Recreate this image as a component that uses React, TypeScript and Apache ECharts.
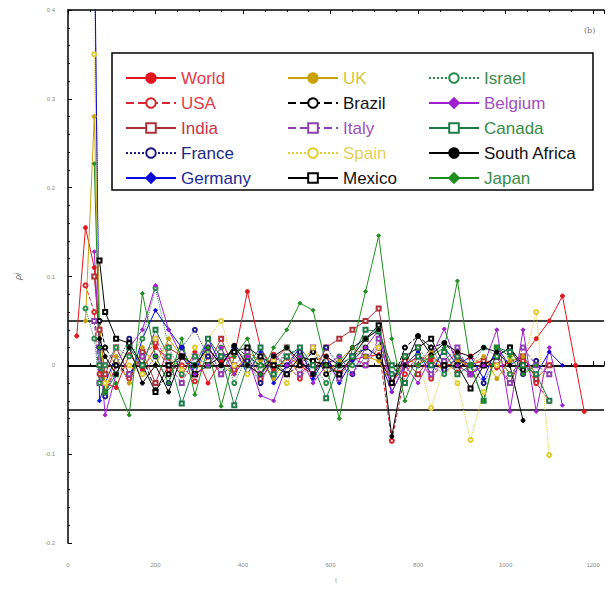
import React, { useEffect, useRef } from "react";
import * as echarts from "echarts";

const N = null;
const days = [20, 40, 60, 72, 85, 110, 140, 170, 200, 230, 260, 290, 320, 350, 380, 410, 440, 470, 500, 530, 560, 590, 620, 650, 680, 710, 740, 770, 800, 830, 860, 890, 920, 950, 980, 1010, 1040, 1070, 1100, 1130, 1160, 1180];

const world = [0.033, 0.155, 0.11, 0.02, -0.02, -0.025, 0.012, -0.005, 0.02, 0.008,
  -0.012, 0.015, -0.02, 0.005, 0.01, 0.083, 0.02, -0.005, 0.008, -0.01,
  0.004, 0.0, -0.008, 0.006, 0.01, 0.012, -0.02, 0.0, 0.01, 0.005,
  -0.005, 0.008, 0.0, 0.006, -0.003, 0.004, 0.01, 0.03, 0.05, 0.078,
  0.0, -0.052];
const usa = [N, 0.09, 0.06, -0.01, -0.03, 0.0, -0.015, 0.01, 0.025, -0.005,
  0.0, -0.018, 0.01, -0.01, 0.015, 0.0, -0.01, 0.012, 0.0, -0.015,
  0.005, 0.01, -0.012, 0.008, 0.0, 0.02, -0.085, -0.01, 0.012, -0.015,
  0.005, -0.008, 0.01, 0.0, 0.012, -0.01, 0.005, -0.02, -0.04, N, N, N];
const india = [N, N, 0.1, 0.04, -0.01, 0.02, -0.01, 0.015, -0.02, 0.02,
  0.01, -0.01, 0.0, 0.03, -0.005, 0.01, -0.015, 0.005, 0.02, 0.0,
  -0.01, 0.02, 0.03, 0.04, 0.05, 0.064, -0.02, 0.005, -0.01, 0.01,
  0.0, 0.015, -0.01, 0.005, 0.0, -0.02, 0.01, -0.015, 0.0, N, N, N];
const france = [N, N, 0.47, 0.02, -0.035, 0.0, 0.03, -0.01, 0.01, -0.02,
  0.02, 0.04, 0.01, -0.01, 0.02, 0.005, -0.02, 0.01, 0.0, 0.015,
  -0.01, 0.02, 0.0, -0.01, 0.01, 0.02, -0.01, 0.01, 0.0, 0.02,
  -0.005, 0.01, 0.0, -0.02, 0.01, 0.02, -0.01, 0.005, N, N, N, N];
const germany = [N, N, 0.52, -0.04, -0.02, 0.01, -0.02, 0.03, 0.062, 0.04,
  0.02, -0.01, 0.03, 0.0, 0.02, -0.01, 0.015, -0.02, 0.0, 0.02,
  -0.015, 0.01, -0.02, 0.005, 0.02, 0.01, -0.03, 0.0, 0.015, -0.01,
  0.02, 0.0, 0.01, -0.015, 0.02, 0.0, 0.01, -0.01, 0.015, 0.0, N, N];
const uk = [N, 0.05, 0.28, 0.05, -0.03, 0.01, -0.02, 0.02, 0.0, 0.03,
  0.01, -0.01, 0.02, 0.0, -0.01, 0.015, 0.005, -0.015, 0.01, 0.0,
  0.02, -0.01, 0.005, 0.02, 0.01, 0.005, -0.02, 0.01, 0.0, 0.015,
  -0.01, 0.005, 0.0, 0.01, -0.015, 0.005, 0.01, -0.01, N, N, N, N];
const brazil = [N, N, N, 0.05, 0.02, 0.0, -0.01, 0.01, -0.028, -0.01,
  0.01, 0.0, 0.02, 0.0, 0.022, 0.01, 0.0, 0.005, -0.01, 0.0,
  0.015, -0.01, 0.0, 0.01, 0.02, 0.01, -0.02, 0.02, 0.033, 0.02,
  0.025, 0.01, -0.01, 0.0, 0.01, 0.02, -0.005, N, N, N, N, N];
const italy = [N, N, 0.05, -0.02, 0.0, 0.02, -0.01, 0.01, 0.03, 0.0,
  -0.02, 0.01, 0.02, -0.01, 0.0, 0.015, -0.01, 0.005, 0.01, -0.01,
  0.02, 0.0, -0.015, 0.01, 0.0, 0.03, -0.02, 0.0, 0.01, -0.01,
  0.005, 0.02, -0.01, 0.0, 0.01, -0.02, 0.02, 0.0, -0.01, N, N, N];
const spain = [N, N, 0.35, 0.0, -0.02, 0.02, 0.0, -0.01, 0.03, 0.01,
  -0.005, 0.02, 0.03, 0.05, 0.0, -0.01, 0.01, 0.005, -0.02, 0.01,
  0.02, 0.0, -0.01, 0.01, 0.03, 0.02, 0.0, -0.02, 0.01, -0.048,
  0.0, -0.02, -0.084, -0.03, 0.0, 0.01, 0.0, 0.06, -0.101, N, N, N];
const mexico = [N, N, N, 0.118, 0.06, 0.03, 0.025, 0.0, -0.03, 0.0,
  0.01, -0.01, 0.0, 0.01, 0.015, 0.02, 0.01, 0.0, -0.01, 0.01,
  0.005, 0.0, -0.01, 0.01, 0.03, 0.045, -0.02, 0.01, 0.02, 0.03,
  0.0, 0.0, -0.026, 0.0, 0.01, 0.02, 0.0, N, N, N, N, N];
const israel = [N, 0.064, 0.03, -0.02, 0.0, 0.02, 0.01, 0.03, 0.087, 0.02,
  -0.01, 0.01, 0.0, 0.02, -0.02, 0.01, 0.0, -0.01, 0.02, 0.01,
  0.0, -0.02, 0.01, 0.0, 0.03, 0.04, -0.01, 0.01, 0.02, 0.0,
  -0.01, 0.01, 0.0, 0.02, 0.01, -0.01, 0.0, N, N, N, N, N];
const belgium = [N, N, 0.128, 0.02, -0.056, -0.01, 0.02, 0.04, 0.09, 0.04,
  0.01, -0.01, 0.0, 0.02, -0.01, 0.01, -0.034, -0.04, 0.0, 0.01,
  -0.02, 0.0, 0.01, -0.01, 0.02, 0.04, -0.03, 0.0, -0.02, 0.01,
  0.041, 0.0, -0.01, 0.0, 0.04, -0.052, 0.04, -0.052, 0.02, -0.045, N, N];
const canada = [N, N, N, 0.0, -0.03, -0.01, 0.02, 0.0, 0.04, 0.01,
  -0.043, 0.0, 0.03, 0.01, -0.045, 0.0, 0.02, -0.01, 0.01, 0.02,
  0.0, -0.037, 0.0, 0.01, 0.04, 0.038, 0.0, -0.02, 0.01, 0.0,
  0.015, -0.01, 0.0, -0.04, 0.02, 0.015, 0.0, -0.01, -0.04, N, N, N];
const southAfrica = [N, N, N, 0.03, 0.01, -0.01, 0.02, -0.02, 0.0, -0.03,
  0.01, 0.0, 0.02, 0.0, 0.022, 0.0, -0.01, 0.01, 0.02, 0.005,
  -0.01, 0.01, 0.0, 0.02, 0.03, 0.04, -0.08, 0.0, 0.033, 0.012,
  0.025, 0.015, 0.01, 0.02, 0.015, 0.0, -0.062, N, N, N, N, N];
const japan = [N, N, 0.227, 0.02, -0.03, -0.02, -0.056, 0.081, 0.01, -0.02,
  0.03, -0.033, 0.02, -0.046, 0.01, 0.03, -0.01, 0.02, 0.04, 0.07,
  0.062, 0.0, -0.06, 0.02, 0.083, 0.146, 0.03, -0.04, 0.0, 0.01,
  0.02, 0.095, 0.0, -0.04, 0.02, 0.01, -0.01, 0.0, N, N, N, N];

const refLines = [0.05, 0, -0.05];
const xTicks = [0, 200, 400, 600, 800, 1000, 1200];

type Def = { name: string; values: (number | null)[]; color: string; text: string; symbol: string; line: string };
const defs: Def[] = [
  { name: "World", values: world, color: "#e3161e", text: "#e23a4a", symbol: "circle", line: "solid" },
  { name: "USA", values: usa, color: "#d8262e", text: "#e23a4a", symbol: "emptyCircle", line: "dashed" },
  { name: "India", values: india, color: "#b0303a", text: "#c8344a", symbol: "emptyRect", line: "solid" },
  { name: "France", values: france, color: "#1c1c80", text: "#1c2a80", symbol: "emptyCircle", line: "dotted" },
  { name: "Germany", values: germany, color: "#0a0ad8", text: "#1c2a9a", symbol: "diamond", line: "solid" },
  { name: "UK", values: uk, color: "#c9a20a", text: "#d8c43a", symbol: "circle", line: "solid" },
  { name: "Brazil", values: brazil, color: "#000000", text: "#111111", symbol: "emptyCircle", line: "dashed" },
  { name: "Italy", values: italy, color: "#9040b0", text: "#a050c0", symbol: "emptyRect", line: "dashed" },
  { name: "Spain", values: spain, color: "#e2cc30", text: "#e2d05a", symbol: "emptyCircle", line: "dotted" },
  { name: "Mexico", values: mexico, color: "#000000", text: "#111111", symbol: "emptyRect", line: "solid" },
  { name: "Israel", values: israel, color: "#2a8a4a", text: "#3a8a4a", symbol: "emptyCircle", line: "dotted" },
  { name: "Belgium", values: belgium, color: "#a020d0", text: "#a050c0", symbol: "diamond", line: "solid" },
  { name: "Canada", values: canada, color: "#1f7a4a", text: "#3a8a4a", symbol: "emptyRect", line: "solid" },
  { name: "South Africa", values: southAfrica, color: "#000000", text: "#111111", symbol: "circle", line: "solid" },
  { name: "Japan", values: japan, color: "#1e8e1e", text: "#3a8a4a", symbol: "diamond", line: "solid" },
];

const columns = [
  ["World", "USA", "India", "France", "Germany"],
  ["UK", "Brazil", "Italy", "Spain", "Mexico"],
  ["Israel", "Belgium", "Canada", "South Africa", "Japan"],
];
const columnLeft = [120, 282, 423];

export default function App() {
  const ref = useRef<HTMLDivElement>(null);
  useEffect(() => {
    if (!ref.current) return;
    const chart = echarts.init(ref.current, undefined, { renderer: "svg" });
    const series: any[] = defs.map((d, k) => ({
      name: d.name,
      type: "line",
      data: days.map((x, i) => [x, d.values[i]]).filter((p) => p[1] !== null),
      symbol: d.symbol,
      symbolSize: 4,
      showAllSymbol: true,
      color: d.color,
      lineStyle: { color: d.color, width: 1, type: d.line },
      itemStyle: { color: d.color, borderColor: d.color, borderWidth: 1 },
      z: 3,
      markLine: k === 0 ? {
        silent: true,
        symbol: "none",
        label: { show: false },
        lineStyle: { color: "#000", width: 1.6, type: "solid" },
        data: refLines.map((v) => ({ yAxis: v })),
        z: 2,
      } : undefined,
    }));
    const legendFor = (names: string[], left: number) => ({
      orient: "vertical",
      left,
      top: 63,
      itemWidth: 50,
      itemHeight: 12,
      itemGap: 5,
      selectedMode: false,
      z: 20,
      textStyle: { fontSize: 17, lineHeight: 20, fontFamily: "Liberation Sans, Arial, sans-serif" },
      data: names.map((n) => ({ name: n, textStyle: { color: defs.find((d) => d.name === n)!.text } })),
    });
    const axisCommon = {
      min: 0,
      max: 1225,
      interval: 200,
      axisLine: { lineStyle: { color: "#000", width: 1.5 } },
      axisTick: { inside: true, length: 4, lineStyle: { color: "#000" } },
      minorTick: { show: true, splitNumber: 4, length: 2, lineStyle: { color: "#000" } },
      splitLine: { show: false },
    };
    chart.setOption({
      animation: false,
      backgroundColor: "#fff",
      grid: { left: 68, right: 0, top: 10, bottom: 47 },
      xAxis: [
        {
          type: "value",
          position: "bottom",
          ...axisCommon,
          name: "t",
          nameLocation: "middle",
          nameGap: 34,
          nameTextStyle: { fontSize: 7, color: "#aaa" },
          axisLabel: {
            fontSize: 6,
            color: "#888",
            margin: 19,
            formatter: (v: number) => (xTicks.indexOf(v) >= 0 ? String(v) : ""),
          },
        },
        { type: "value", position: "top", ...axisCommon, axisLabel: { show: false } },
      ],
      yAxis: {
        type: "value",
        min: -0.2,
        max: 0.4,
        interval: 0.1,
        name: "ρi",
        nameLocation: "middle",
        nameGap: 46,
        nameRotate: 90,
        nameTextStyle: { fontSize: 9, color: "#666", fontStyle: "italic" },
        axisLine: { lineStyle: { color: "#000", width: 1.5 } },
        axisTick: { inside: true, length: 4, lineStyle: { color: "#000" } },
        minorTick: { show: true, splitNumber: 5, length: 2, lineStyle: { color: "#000" } },
        splitLine: { show: false },
        axisLabel: {
          fontSize: 6,
          color: "#888",
          margin: 13,
          formatter: (v: number) => {
            const r = Math.round(v * 10) / 10;
            return r === 0 ? "0" : r.toFixed(1);
          },
        },
      },
      legend: columns.map((c, i) => legendFor(c, columnLeft[i])),
      graphic: [
        {
          type: "rect",
          z: 10,
          shape: { x: 112, y: 53, width: 481, height: 137 },
          style: { fill: "#fff", stroke: "#000", lineWidth: 1.5 },
        },
        {
          type: "text",
          z: 10,
          x: 584,
          y: 26,
          style: { text: "(b)", fontSize: 8, fill: "#777", fontFamily: "DejaVu Serif, serif" },
        },
      ],
      series,
    });
    return () => chart.dispose();
  }, []);
  return <div ref={ref} style={{ position: "fixed", left: 0, top: 0, width: 607, height: 590 }} />;
}
